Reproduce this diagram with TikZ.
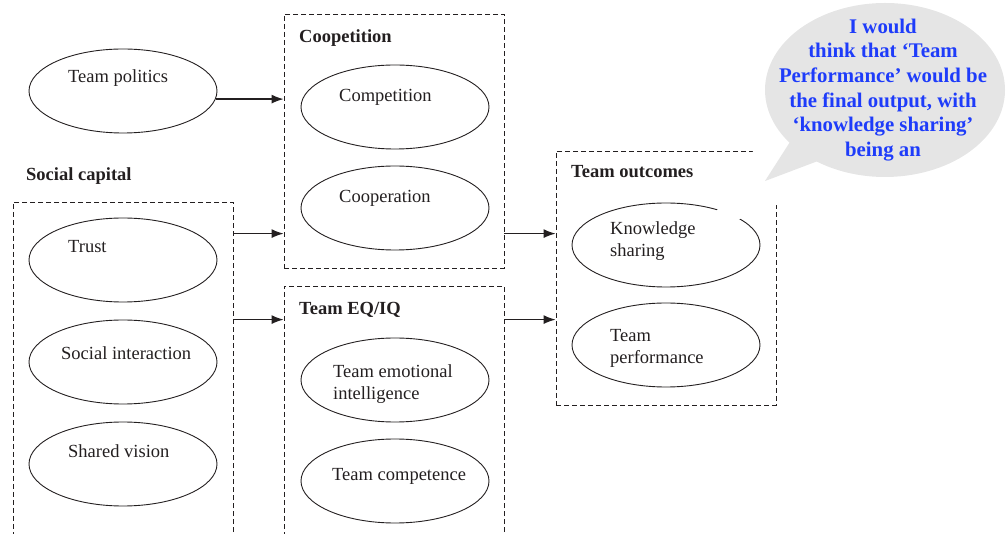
\documentclass[tikz,border=0pt]{standalone}
\usepackage{fontspec}
\setmainfont{Liberation Serif}
\usetikzlibrary{shapes.geometric,shapes.callouts,arrows.meta}
\definecolor{inkgray}{RGB}{35,31,32}
\definecolor{notegray}{RGB}{229,229,229}
\definecolor{noteblue}{RGB}{30,60,250}

\begin{document}
\begin{tikzpicture}[x=1pt, y=-1pt, >={Latex[length=12pt,width=9pt]},
  factor/.style={shape=ellipse, draw=inkgray, line width=0.9pt, minimum width=188pt, minimum height=84pt, inner sep=0pt},
  groupbox/.style={shape=rectangle, draw=inkgray, line width=0.8pt, dash pattern=on 5pt off 3pt, minimum width=220pt, inner sep=0pt},
  factortext/.style={anchor=base west, inner sep=0pt, align=left, text=inkgray, font=\fontsize{18.5}{22}\selectfont},
  grouptitle/.style={anchor=base west, inner sep=0pt, text=inkgray, font=\fontsize{18.5}{22}\selectfont\bfseries},
  link/.style={->, line width=1.3pt, draw=inkgray}]
\useasboundingbox (0, 0) rectangle (1007, 534);

% groups
\node at (394, 141) [groupbox, minimum height=254pt] (coop) {};
\node at (123, 381) [groupbox, minimum height=358pt] (social) {};
\node at (394, 423) [groupbox, minimum height=274pt] (eqiq) {};
\node at (666, 278) [groupbox, minimum height=254pt] (outcomes) {};
\node at (299, 43) [grouptitle] (coop title) {Coopetition};
\node at (26, 181) [grouptitle] (social title) {Social capital};
\node at (299, 315) [grouptitle] (eqiq title) {Team EQ/IQ};
\node at (571, 178) [grouptitle] (outcomes title) {Team outcomes};

% factors
\node at (123, 91) [factor] (politics) {};
\node at (395, 107) [factor] (competition) {};
\node at (395, 208) [factor] (cooperation) {};
\node at (123, 260) [factor] (trust) {};
\node at (123, 362) [factor] (interaction) {};
\node at (123, 464) [factor] (vision) {};
\node at (395, 380) [factor] (emotional) {};
\node at (395, 481) [factor] (competence) {};
\node at (666, 245) [factor] (knowledge) {};
\node at (666, 345) [factor] (performance) {};

% two-line texts sit on their last baseline
\node at (68, 83) [factortext] (politics text) {Team politics};
\node at (339, 102) [factortext] (competition text) {Competition};
\node at (339, 203) [factortext] (cooperation text) {Cooperation};
\node at (68, 253) [factortext] (trust text) {Trust};
\node at (61, 360) [factortext] (interaction text) {Social interaction};
\node at (68, 457) [factortext] (vision text) {Shared vision};
\node at (333, 400) [factortext] (emotional text) {Team emotional\\intelligence};
\node at (332, 480) [factortext] (competence text) {Team competence};
\node at (610, 257) [factortext] (knowledge text) {Knowledge\\sharing};
\node at (610, 364) [factortext] (performance text) {Team\\performance};

% links
\coordinate (s1) at ([yshift=-32pt]social.north east);
\coordinate (s2) at ([yshift=-118pt]social.north east);
\draw [link] (politics.-5) to (politics.-5 -| coop.west);
\draw [link] (s1) to (s1 -| coop.west);
\draw [link] (s2) to (s2 -| eqiq.west);
\draw [link] (s1 -| coop.east) to (s1 -| outcomes.west);
\draw [link] (s2 -| eqiq.east) to (s2 -| outcomes.west);

% note
\fill [white] (716, 212) -- (738, 220) -- (748, 214) -- (792, 200) -- (792, 140) -- (760, 140) -- cycle;
\node at (885, 90) [shape=ellipse callout, fill=notegray, minimum width=240pt, minimum height=174pt, inner sep=0pt, callout absolute pointer={(765, 181)}, callout pointer arc=18] (note) {};
\node at (883, 90) [align=center, inner sep=0pt, text=noteblue, font=\fontsize{20.8}{24.7}\selectfont\bfseries] (note text) {I would\\think that ‘Team\\Performance’ would be\\the final output, with\\‘knowledge sharing’\\being an};
\end{tikzpicture}
\end{document}
